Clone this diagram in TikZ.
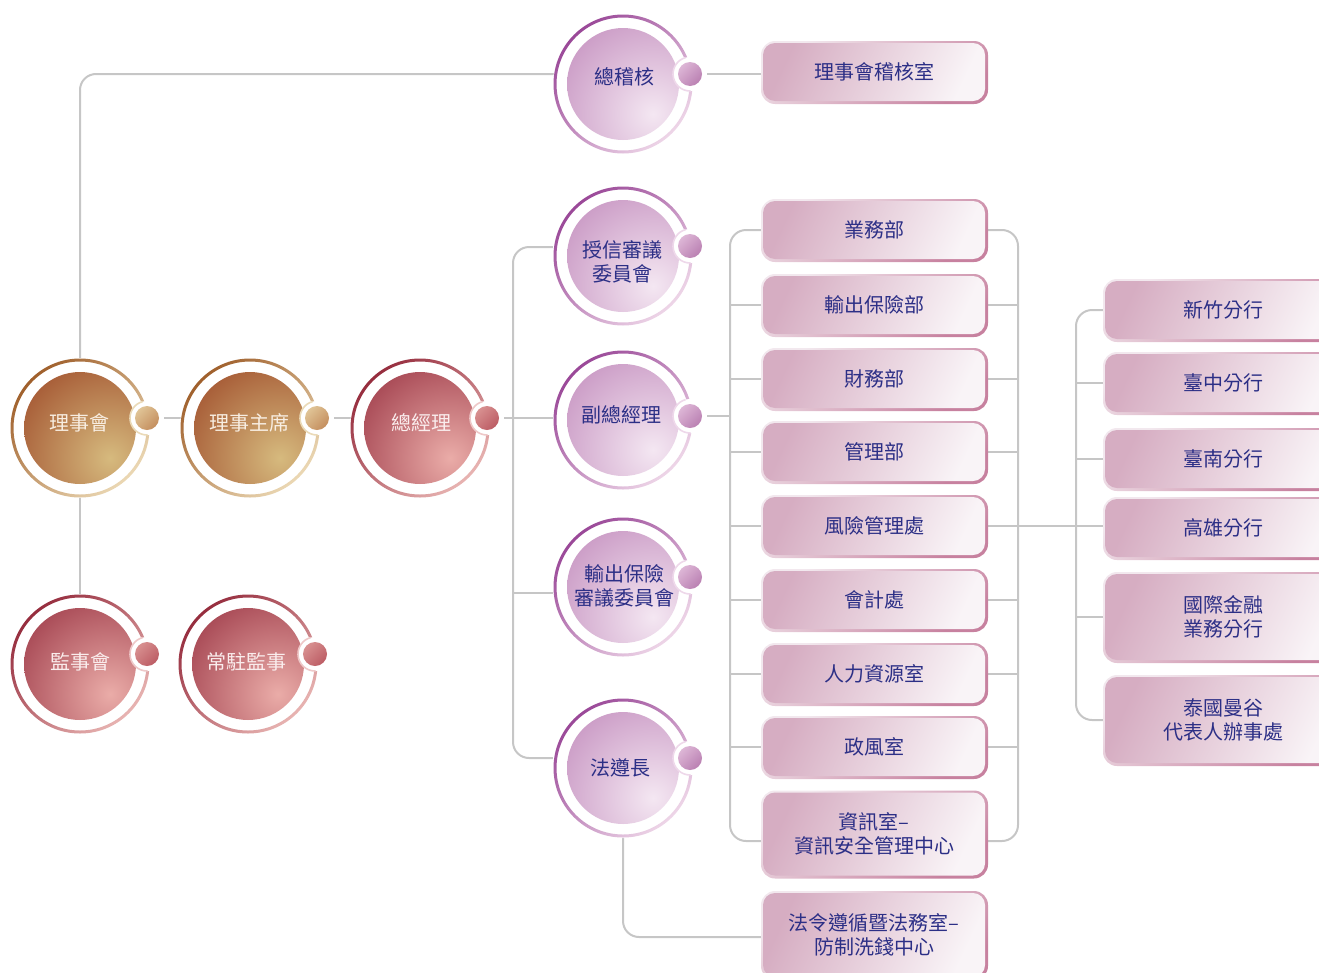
\documentclass[tikz,border=0pt]{standalone}
\usepackage{fontspec}
\newfontfamily\cjk{Noto Sans CJK TC}
\usetikzlibrary{calc}
\pgfdeclarelayer{bg}
\pgfsetlayers{bg,main}
% colour sets
\definecolor{brRingA}{HTML}{A0602C}\definecolor{brRingB}{HTML}{EBD8B4}
\definecolor{brDiskA}{HTML}{983E20}\definecolor{brDiskB}{HTML}{D6BA7E}
\definecolor{brKnobA}{HTML}{C48E5E}\definecolor{brKnobB}{HTML}{E0C496}
\definecolor{brArc}{HTML}{EADAB8}\definecolor{brText}{HTML}{F8EEE2}
\definecolor{rdRingA}{HTML}{962D3E}\definecolor{rdRingB}{HTML}{E8B4B2}
\definecolor{rdDiskA}{HTML}{932A3B}\definecolor{rdDiskB}{HTML}{EAACA8}
\definecolor{rdKnobA}{HTML}{BC5C64}\definecolor{rdKnobB}{HTML}{D89090}
\definecolor{rdArc}{HTML}{EEC8C8}\definecolor{rdText}{HTML}{FAEDED}
\definecolor{ppRingA}{HTML}{9A4898}\definecolor{ppRingB}{HTML}{EED6E8}
\definecolor{ppDiskA}{HTML}{BE84B8}\definecolor{ppDiskB}{HTML}{F4E7F2}
\definecolor{ppKnobA}{HTML}{BA80B2}\definecolor{ppKnobB}{HTML}{DDB6D6}
\definecolor{ppArc}{HTML}{EED8EA}\definecolor{ppText}{HTML}{2C2F86}
\definecolor{boxA}{HTML}{D6ADC2}\definecolor{boxB}{HTML}{F9F4F7}
\definecolor{edgeA}{HTML}{F2E8EE}\definecolor{edgeB}{HTML}{C7819F}
\definecolor{boxText}{HTML}{2C2F86}
\definecolor{connC}{HTML}{C6C6C6}
\tikzset{
  conn/.style={draw=connC, line width=2pt},
  cjktext/.style={font=\cjk\fontsize{20}{24.5}\selectfont, align=center, inner sep=0pt},
}
\def\kdy{-10}
% circle: name, centre, colour set, text position, text
\newcommand\orgcirc[5]{%
  \node[circle, minimum size=140pt, inner sep=0pt] (#1) at (#2) {};
  \node[circle, minimum size=24pt, inner sep=0pt] (#1k) at ($(#1)+(67,\kdy)$) {};
  \fill[white] (#1) circle (70);
  \shade[even odd rule, top color=#3RingA, bottom color=#3RingB, shading angle=45]
     (#1) circle (69.5) (#1) circle (66.5);
  \begin{scope}
    \clip (#1) circle (56);
    \shade[inner color=#3DiskB, outer color=#3DiskA] ($(#1)+(30,30)$) circle (135);
  \end{scope}
  \fill[white] (#1k) circle (17);
  \draw[#3Arc, line width=1.6pt] ($(#1k)+(88:17)$) arc[start angle=88, end angle=255, radius=17];
  \shade[top color=#3KnobA, bottom color=#3KnobB, shading angle=-135] (#1k) circle (12);
  \node[cjktext, text=#3Text] at (#4) {#5};
}
% box: name, centre, width, height, text
\newcommand\orgbox[5]{%
  \node[minimum width=#3pt, minimum height=#4pt, inner sep=0pt, outer sep=0pt] (#1) at (#2) {};
  \shade[rounded corners=14pt, top color=edgeA, bottom color=edgeB, shading angle=35]
     ([shift={(-2pt,2pt)}]#1.north west) rectangle ([shift={(3pt,-3pt)}]#1.south east);
  \shade[rounded corners=12pt, top color=boxA, bottom color=boxB, shading angle=65]
     (#1.north west) rectangle (#1.south east);
  \node[cjktext, text=boxText] at (#1) {#5};
}
\begin{document}
\begin{tikzpicture}[x=1pt, y=-1pt]
\useasboundingbox (0,0) rectangle (1319,972);

% circles
\orgcirc{lsh}{80,428}{br}{79,423}{理事會}
\orgcirc{zs}{250,428}{br}{249,423}{理事主席}
\orgcirc{zjl}{420,428}{rd}{421,423}{總經理}
\orgcirc{jsh}{80,664}{rd}{80,662}{監事會}
\orgcirc{cz}{248,664}{rd}{246,662}{常駐監事}
\orgcirc{zjh}{623,84}{pp}{624,77}{總稽核}
\orgcirc{sx}{623,256}{pp}{622,262}{授信審議\\委員會}
\def\kdy{-4}
\orgcirc{fzj}{623,420}{pp}{621,415}{副總經理}
\def\kdy{-10}
\orgcirc{cbx}{623,587}{pp}{624,586}{輸出保險\\審議委員會}
\orgcirc{fzz}{623,768}{pp}{620,768}{法遵長}

% boxes
\orgbox{jhs}{874,72}{222}{58}{理事會稽核室}
\orgbox{ywb}{874,230}{222}{58}{業務部}
\orgbox{sc}{874,305}{222}{58}{輸出保險部}
\orgbox{cw}{874,379}{222}{58}{財務部}
\orgbox{gl}{874,452}{222}{58}{管理部}
\orgbox{fx}{874,526}{222}{58}{風險管理處}
\orgbox{kj}{874,600}{222}{58}{會計處}
\orgbox{rl}{874,674}{222}{58}{人力資源室}
\orgbox{zf}{874,747}{222}{58}{政風室}
\orgbox{zx}{874,834}{222}{83}{資訊室–\\資訊安全管理中心}
\orgbox{fl}{874,935}{222}{84}{法令遵循暨法務室–\\防制洗錢中心}
\orgbox{xz}{1223,310}{236}{58}{新竹分行}
\orgbox{tz}{1223,383}{236}{58}{臺中分行}
\orgbox{tn}{1223,459}{236}{58}{臺南分行}
\orgbox{gx}{1223,528}{236}{58}{高雄分行}
\orgbox{gj}{1223,617}{236}{86}{國際金融\\業務分行}
\orgbox{tg}{1223,720}{236}{86}{泰國曼谷\\代表人辦事處}

\coordinate (bus) at (513,500);
\coordinate (dL) at (730,500);
\coordinate (dR) at (1018,500);
\coordinate (bL) at (1076,500);

\begin{pgfonlayer}{bg}
\draw[conn, rounded corners=16pt] (lsh) |- (zjhk);
\draw[conn] (zjhk) -- (zjhk -| jhs.west);
\draw[conn] (lsh) -- (jsh);
\draw[conn] (lshk) -- (zsk);
\draw[conn] (zsk) -- (zjlk);
\draw[conn] (zjlk) -- (zjlk -| fzj);
\draw[conn, rounded corners=16pt] ([yshift=9pt]sx.west) -| (bus) |- ([yshift=10pt]fzz.west);
\draw[conn] ([yshift=-6pt]cbx.west) -| (bus);
\draw[conn] (fzjk) -- (fzjk -| dL);
% department buses
\draw[conn, rounded corners=16pt] (ywb.west) -| (dL) |- ([yshift=-7pt]zx.west);
\draw[conn, rounded corners=16pt] (ywb.east) -| (dR) |- ([yshift=-7pt]zx.east);
\foreach \b in {sc,cw,gl,fx,kj,rl,zf}{
  \draw[conn] (\b.west) -- (\b.west -| dL);
  \draw[conn] (\b.east) -- (\b.east -| dR);
}
\draw[conn] (fx.east) -- (fx.east -| gx.west);
% branch bus
\draw[conn, rounded corners=16pt] (xz.west) -| (bL) |- (tg.west);
\foreach \b in {tz,tn,gj}{
  \draw[conn] (\b.west) -- (\b.west -| bL);
}
% compliance
\draw[conn, rounded corners=16pt] (fzz) |- ([yshift=-2pt]fl.west);
\end{pgfonlayer}
\end{tikzpicture}
\end{document}
